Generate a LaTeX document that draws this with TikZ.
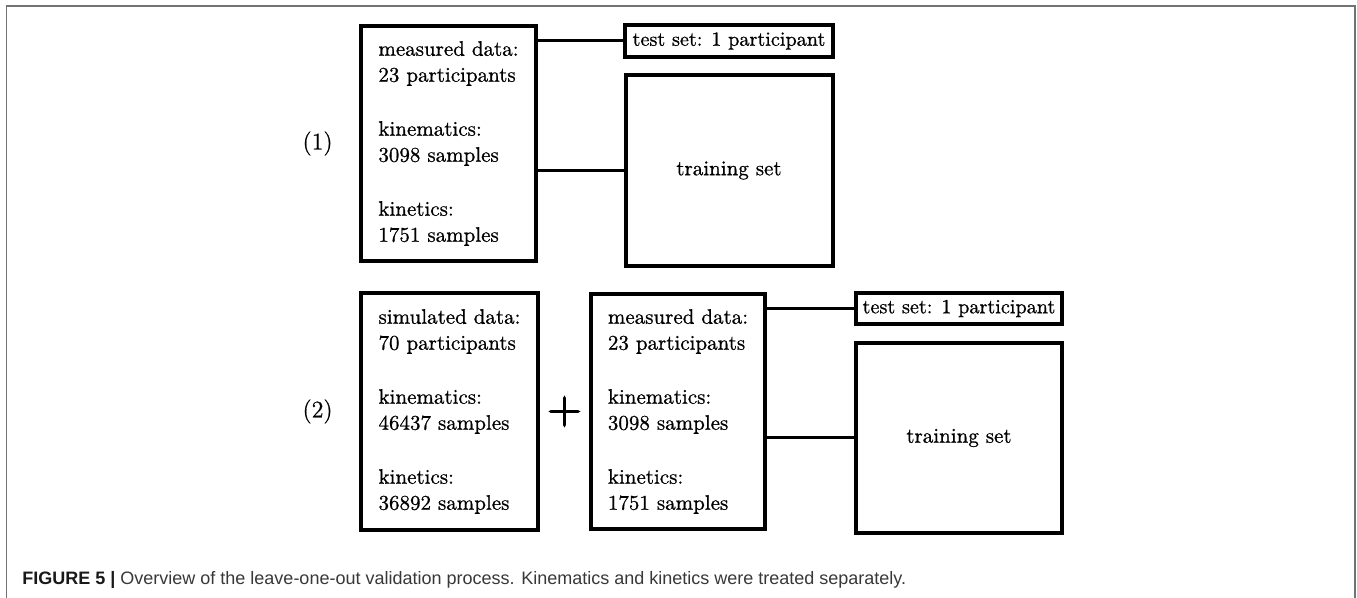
\documentclass[tikz,border=0pt]{standalone}
\usepackage{fontspec}
\setmainfont{Latin Modern Roman}
\newfontfamily\boxfont[FakeBold=0.8]{Latin Modern Roman}
\newfontfamily\plusfont[FakeBold=2]{Latin Modern Roman}
\newfontfamily\capfont{Liberation Sans}
\usetikzlibrary{positioning,calc}

\begin{document}
\begin{tikzpicture}[x=0.5pt, y=-0.5pt,
    box/.style={draw, line width=2pt, inner sep=0pt, font=\boxfont\fontsize{10.5}{13}\selectfont},
    databox/.style={box, align=left, minimum width=87.5pt, minimum height=117.5pt},
    testbox/.style={box, minimum width=104pt, minimum height=16pt, font=\boxfont\fontsize{10.1}{12}\selectfont},
    trainbox/.style={box, minimum width=103.5pt, minimum height=95.5pt},
    rowlabel/.style={inner sep=0pt, font=\boxfont\fontsize{12}{14}\selectfont},
    link/.style={line width=1.5pt}]
        \useasboundingbox (0,0) rectangle (1357,598);
        % frame of the figure
        \draw[black!55, line width=0.8pt] (6.5,600) -- (6.5,6) -- (1355,6) -- (1355,600);

        % (1) measured data only
        \node [databox] (1) at (448.5,143.5) {measured data:\\23 participants\\[14pt]kinematics:\\3098 samples\\[14pt]kinetics:\\1751 samples};
        \node [testbox, below right=-0.5pt and 42.5pt of 1.north east] (2) {test set: 1 participant};
        \node [trainbox, below=7pt of 2] (3) {training set};
        \node [rowlabel, left=13pt of 1] (4) {(1)};
        \draw[link] (1.east |- 2.west) -- (2.west);
        \draw[link] (1.east |- 3.west) -- (3.west);

        % (2) simulated plus measured data
        \node [databox, below=14pt of 1, xshift=0.5pt, minimum width=88.5pt, minimum height=118.5pt] (5) {simulated data:\\70 participants\\[14pt]kinematics:\\46437 samples\\[14pt]kinetics:\\36892 samples};
        \node [databox, right=24.5pt of 5, minimum width=87pt] (6) {measured data:\\23 participants\\[14pt]kinematics:\\3098 samples\\[14pt]kinetics:\\1751 samples};
        \node [inner sep=0pt, font=\plusfont\fontsize{24}{24}\selectfont] (7) at ($(5.east)!0.5!(6.west)$) {+};
        \node [testbox, below right=-0.5pt and 43.5pt of 6.north east, minimum width=103pt, minimum height=15.5pt] (8) {test set: 1 participant};
        \node [trainbox, below=7.5pt of 8, minimum width=103pt, minimum height=95pt] (9) {training set};
        \node [rowlabel, left=13pt of 5] (10) {(2)};
        \draw[link] (6.east |- 8.west) -- (8.west);
        \draw[link] (6.east |- 9.west) -- (9.west);

        % caption
        \node [anchor=base west, inner sep=0pt, font=\capfont\fontsize{9}{11}\selectfont, text=black!78] (11) at (22,585) {\textcolor{black!90}{\textbf{FIGURE 5 |}} Overview of the leave-one-out validation process. Kinematics and kinetics were treated separately.};
      \end{tikzpicture}
\end{document}
